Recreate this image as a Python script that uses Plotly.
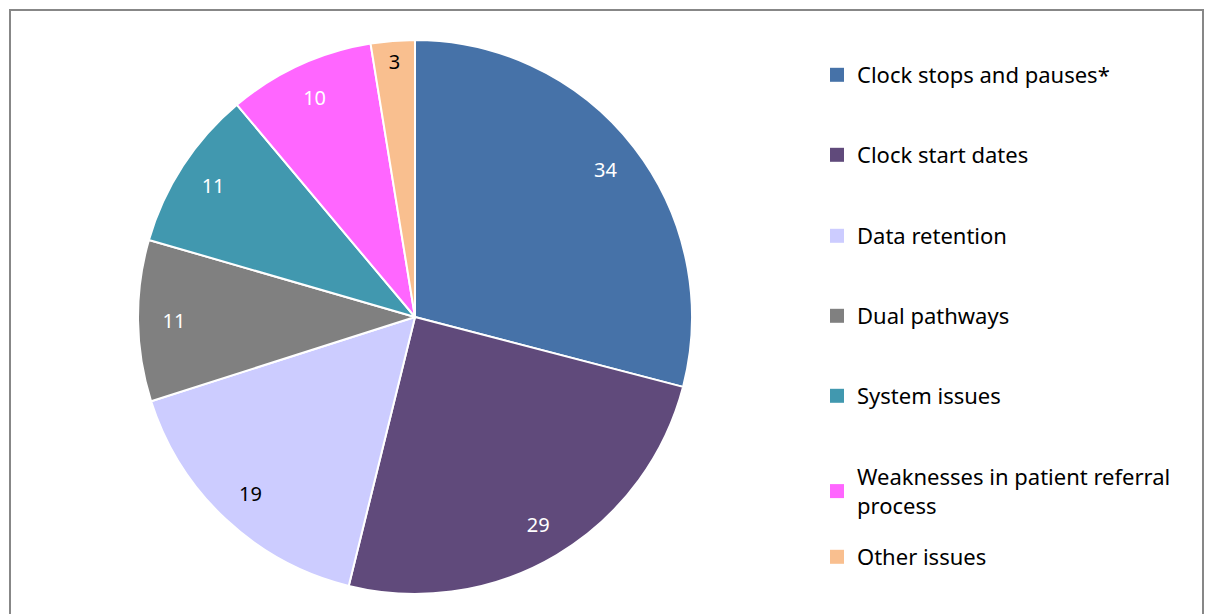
import plotly.graph_objects as go

categories = ["Clock stops and pauses*", "Clock start dates", "Data retention",
              "Dual pathways", "System issues",
              "Weaknesses in patient referral<br>process", "Other issues"]
values = [34, 29, 19, 11, 11, 10, 3]
colors = ["#4672A8", "#604A7B", "#CCCCFF", "#808080", "#4198AF", "#FF66FF", "#F9BF8F"]
text_colors = ["white", "white", "black", "white", "white", "white", "black"]

W, H = 1205, 614
FONT = "Noto Sans"
legend_centers_px = [75, 155, 236, 316, 396, 477, 557]  # reference pixel rows
LEG_FS = 22

def px_x(x):
    return x / W

def px_y(y):
    return 1 - y / H

cx, cy, R = 415, 317, 277
dom = dict(x=[px_x(cx - R), px_x(cx + R)], y=[px_y(cy + R), px_y(cy - R)])

fig = go.Figure()
fig.add_trace(go.Pie(
    labels=categories, values=values, sort=False, direction="clockwise", rotation=0,
    marker=dict(colors=colors, line=dict(color="white", width=2)),
    textinfo="none", domain=dom, showlegend=False, hoverinfo="label+value",
))
# transparent ring carrying the value labels near the outer edge
fig.add_trace(go.Pie(
    labels=categories, values=values, sort=False, direction="clockwise", rotation=0,
    hole=0.74,
    marker=dict(colors=["rgba(0,0,0,0)"] * len(values), line=dict(width=0)),
    textinfo="value", textposition="inside", insidetextorientation="horizontal",
    textfont=dict(family=FONT, size=20, color=text_colors),
    domain=dom, showlegend=False, hoverinfo="skip",
))

layout_legends = {}
for i, (cat, col) in enumerate(zip(categories, colors)):
    name = "legend" if i == 0 else f"legend{i + 1}"
    fig.add_trace(go.Scatter(
        x=[None], y=[None], mode="markers", name=cat,
        marker=dict(symbol="square", size=14, color=col),
        legend=name, showlegend=True,
    ))
    layout_legends[name] = dict(
        x=px_x(817), xanchor="left", y=px_y(legend_centers_px[i] - 21), yanchor="top",
        font=dict(family=FONT, size=LEG_FS, color="black"),
        bgcolor="rgba(0,0,0,0)", itemwidth=30,
    )

fig.update_layout(
    width=W, height=H, margin=dict(l=0, r=0, t=0, b=0),
    paper_bgcolor="white", plot_bgcolor="white",
    xaxis=dict(visible=False), yaxis=dict(visible=False),
    shapes=[dict(type="rect", xref="paper", yref="paper",
                 x0=px_x(10), x1=px_x(1203), y0=-0.05, y1=px_y(10),
                 line=dict(color="#878787", width=2), layer="below")],
    **layout_legends,
)

fig.write_html(
    "out.html",
    config={"displayModeBar": False},
    post_script="document.body.style.margin='0';document.body.style.overflow='hidden';",
)
